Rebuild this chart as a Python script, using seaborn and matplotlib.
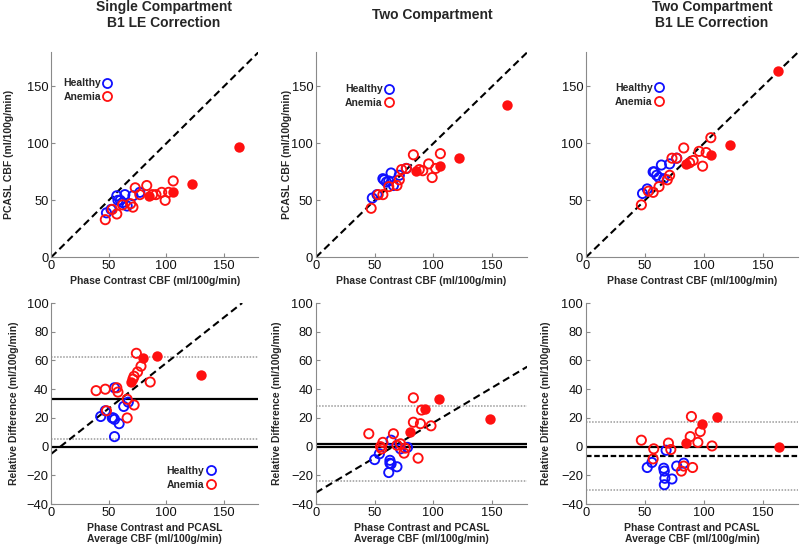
import matplotlib
matplotlib.use("Agg")
import matplotlib.pyplot as plt
from matplotlib.lines import Line2D
import seaborn as sns

# ---- data ----
# top row: phase contrast CBF vs PCASL CBF (ml/100g/min)
healthy_pc = [48, 52, 57, 58, 60, 62, 64, 66, 71, 77]
healthy_single = [39, 42, 54, 50, 50, 48, 55, 45, 54, 57]
healthy_two = [52, 55, 69, 68, 66, 67, 74, 63, 72, 78]
healthy_two_b1 = [56, 60, 75, 75, 72, 70, 81, 69, 82, 87]

anemia_pc = [47, 53, 57, 62, 69, 71, 73, 77, 83, 88, 91, 96, 99, 102, 106]
anemia_single = [33, 42, 38, 46, 47, 44, 61, 55, 63, 55, 55, 57, 50, 57, 67]
anemia_two = [43, 55, 55, 62, 63, 68, 77, 78, 90, 77, 76, 82, 70, 78, 91]
anemia_two_b1 = [46, 58, 57, 62, 68, 72, 87, 87, 96, 83, 85, 93, 80, 92, 105]

filled_pc = [85, 106, 122, 163]
filled_single = [54, 57, 64, 97]
filled_two = [76, 80, 87, 134]
filled_two_b1 = [82, 90, 99, 164]

# bottom row: average CBF vs relative difference
bl_healthy_x = [43, 47, 53, 55, 55, 59, 63, 67, 55, 54]
bl_healthy_y = [21, 25, 20, 19, 41, 16, 28, 31, 7, 20]
bl_anemia_x = [39, 47, 48, 57, 58, 66, 66, 72, 72, 75, 78, 74, 86, 71]
bl_anemia_y = [39, 40, 25, 41, 38, 33, 20, 29, 49, 52, 56, 65, 45, 47]
bl_filled_x = [69, 80, 92, 130]
bl_filled_y = [45, 62, 63, 50]

bm_healthy_x = [50, 54, 64, 63, 63, 62, 69, 72, 78, 64]
bm_healthy_y = [-9, -5, 4.5, -9.5, -11.5, -18, -14, -1.5, -0.5, -12]
bm_anemia_x = [45, 55, 57, 56, 66, 69, 75, 76, 83, 83, 87, 89, 90, 98, 72]
bm_anemia_y = [9, 0, 3, -1.5, 9, 1, -4.5, -1, 34, 17, -8, 16, 25.5, 14.5, 2]
bm_filled_x = [80, 93, 105, 148]
bm_filled_y = [10, 26.5, 33, 19]

br_healthy_x = [52, 56, 66, 66.5, 67, 66.5, 73, 68, 77, 83]
br_healthy_y = [-14.5, -11, -15, -17, -22, -26.5, -22.5, -2.5, -13.5, -11.5]
br_anemia_x = [47, 57.5, 57, 70, 72, 81, 83, 88.5, 89.5, 95, 97, 107, 90.5]
br_anemia_y = [4.5, -1.5, -8.5, 2.5, -2, -17, -13.5, 7, 21, 3, 10.5, 0.5, -14.5]
br_filled_x = [85, 98.5, 111.5, 164]
br_filled_y = [2.5, 16, 21, -0.5]

# summary lines (mean, limits of agreement, regression) per bottom panel
bl_mean, bl_limits, bl_fit = 33.5, [5, 62.5], (-5, 0.633)
bm_mean, bm_limits, bm_fit = 1.7, [-24, 28], (-32, 0.487)
br_mean, br_limits = -6.3, [-30, 17]

titles = ["Single Compartment\nB1 LE Correction", "Two Compartment",
          "Two Compartment\nB1 LE Correction"]
top_xlabel = "Phase Contrast CBF (ml/100g/min)"
top_ylabel = "PCASL CBF (ml/100g/min)"
bot_xlabel = "Phase Contrast and PCASL\nAverage CBF (ml/100g/min)"
bot_ylabel = "Relative Difference (ml/100g/min)"
group_labels = ["Healthy", "Anemia"]

BLUE = "#1010ff"
RED = "#ff1010"
SPINE = "#8a8a8a"

sns.set_style("ticks")
plt.rcParams["font.family"] = ["Liberation Sans", "DejaVu Sans"]

fig = plt.figure(figsize=(8, 5.45), dpi=100)

cols = [(0.064, 0.259), (0.395, 0.264), (0.7325, 0.265)]
top_axes = [fig.add_axes([l, 0.528, w, 0.376]) for l, w in cols]
bot_axes = [fig.add_axes([l, 0.075, w, 0.369]) for l, w in cols]


def draw_points(ax, x, y, color, filled):
    sns.scatterplot(x=x, y=y, ax=ax, color=color, s=56 if filled else 44,
                    linewidth=0 if filled else 1.35, legend=False, zorder=3)
    coll = ax.collections[-1]
    if not filled:
        coll.set_facecolor("none")
        coll.set_edgecolor(color)


def style_axes(ax):
    sns.despine(ax=ax)
    for side in ["left", "bottom"]:
        ax.spines[side].set_color(SPINE)
        ax.spines[side].set_linewidth(0.8)
    ax.tick_params(direction="in", length=3, color=SPINE, labelsize=9.3,
                   labelcolor="#111111", pad=2)
    ax.set_xlim(0, 180)
    ax.set_xticks([0, 50, 100, 150])


def add_legend(ax, x, y):
    handles = [Line2D([], [], ls="none", marker="o", ms=6.5, mfc="none",
                      mec=c, mew=1.3) for c in [BLUE, RED]]
    ax.legend(handles, group_labels, loc="upper left", bbox_to_anchor=(x, y),
              frameon=False, markerfirst=False,
              prop=dict(weight="bold", size=7.5), handletextpad=0.2,
              handlelength=0.8, borderpad=0, borderaxespad=0, labelspacing=0.35)


# ---- top row ----
top_sets = [
    (healthy_single, anemia_single, filled_single),
    (healthy_two, anemia_two, filled_two),
    (healthy_two_b1, anemia_two_b1, filled_two_b1),
]
legend_pos = [(0.058, 0.873), (0.137, 0.843), (0.137, 0.85)]
title_x = [0.205, 0.54, 0.89]

for i, ax in enumerate(top_axes):
    h_y, a_y, f_y = top_sets[i]
    ax.axline((0, 0), slope=1, color="black", lw=1.5, ls=(0, (3.5, 2)), zorder=2)
    draw_points(ax, healthy_pc, h_y, BLUE, False)
    draw_points(ax, anemia_pc, a_y, RED, False)
    draw_points(ax, filled_pc, f_y, RED, True)
    style_axes(ax)
    ax.set_ylim(0, 180)
    ax.set_yticks([0, 50, 100, 150])
    ax.set_xlabel(top_xlabel, fontsize=7.5, fontweight="bold", labelpad=3)
    if i < 2:
        ax.set_ylabel(top_ylabel, fontsize=7.5, fontweight="bold")
    add_legend(ax, *legend_pos[i])
    fig.text(title_x[i], 0.9725, titles[i], ha="center", va="center",
             fontsize=10, fontweight="bold", linespacing=1.15)

top_axes[0].yaxis.set_label_coords(-0.18, 0.5)
top_axes[1].yaxis.set_label_coords(-0.114, 0.5)

# ---- bottom row ----
bot_sets = [
    (bl_healthy_x, bl_healthy_y, bl_anemia_x, bl_anemia_y, bl_filled_x, bl_filled_y),
    (bm_healthy_x, bm_healthy_y, bm_anemia_x, bm_anemia_y, bm_filled_x, bm_filled_y),
    (br_healthy_x, br_healthy_y, br_anemia_x, br_anemia_y, br_filled_x, br_filled_y),
]
means = [bl_mean, bm_mean, br_mean]
limits = [bl_limits, bm_limits, br_limits]
fits = [bl_fit, bm_fit, None]
ylabel_x = [-0.157, -0.161, -0.165]

for i, ax in enumerate(bot_axes):
    hx, hy, ax_, ay, fx, fy = bot_sets[i]
    for lim in limits[i]:
        ax.axhline(lim, color="#9a9a9a", lw=1.1, ls=(0, (1, 1)), zorder=1)
    ax.axhline(0, color="black", lw=1.6, zorder=1)
    if i == 2:
        ax.axhline(means[i], color="black", lw=1.6, ls=(0, (2.5, 1.2)), zorder=1)
    else:
        ax.axhline(means[i], color="black", lw=1.6, zorder=1)
    if fits[i] is not None:
        b, m = fits[i]
        ax.axline((0, b), slope=m, color="black", lw=1.5, ls=(0, (3.5, 2)), zorder=2)
    draw_points(ax, hx, hy, BLUE, False)
    draw_points(ax, ax_, ay, RED, False)
    draw_points(ax, fx, fy, RED, True)
    style_axes(ax)
    ax.set_ylim(-40, 100)
    ax.set_yticks(range(-40, 101, 20))
    ax.set_xlabel(bot_xlabel, fontsize=7.5, fontweight="bold", labelpad=3,
                  linespacing=1.1)
    ax.set_ylabel(bot_ylabel, fontsize=7.5, fontweight="bold")
    ax.yaxis.set_label_coords(ylabel_x[i], 0.5)

add_legend(bot_axes[0], 0.557, 0.19)

fig.savefig("out.png", dpi=100)
